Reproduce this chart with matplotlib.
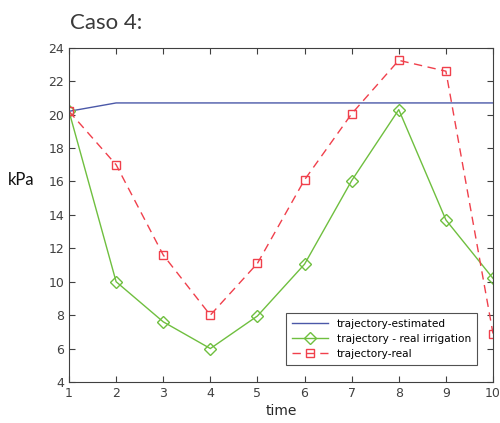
import matplotlib.pyplot as plt

# datos
t = [1, 2, 3, 4, 5, 6, 7, 8, 9, 10]
estimada = [20.2, 20.7, 20.7, 20.7, 20.7, 20.7, 20.7, 20.7, 20.7, 20.7]
riego_real = [20.2, 10.0, 7.6, 6.0, 7.95, 11.05, 16.05, 20.3, 13.7, 10.2]
real = [20.2, 17.0, 11.6, 8.0, 11.1, 16.1, 20.05, 23.25, 22.6, 6.9]

fig = plt.figure(figsize=(5.0, 4.23), dpi=100)
ax = fig.add_axes([0.138, 0.097, 0.848, 0.790])

ax.plot(t, estimada, color="#4b58a8", lw=1.0, label="trajectory-estimated")
ax.plot(t, riego_real, color="#6fbf3f", lw=1.0, marker="D", ms=6, mfc="none",
        mew=1.0, label="trajectory - real irrigation")
ax.plot(t, real, color="#f0404c", lw=1.0, ls=(0, (6, 4)), marker="s", ms=5.5, mfc="none",
        mew=1.0, label="trajectory-real")

ax.set_xlim(1, 10)
ax.set_ylim(4, 24)
ax.set_xticks(range(1, 11))
ax.set_yticks(range(4, 25, 2))
ax.tick_params(direction="in", top=True, right=True, labelsize=9, colors="#404040",
               length=4, width=0.8)
for s in ax.spines.values():
    s.set_color("#404040")
    s.set_linewidth(0.8)

ax.set_xlabel("time", fontsize=10, color="#262626", labelpad=3)
fig.text(0.016, 0.575, "kPa", fontsize=12, color="#111111", family="Lato", va="center")
fig.text(0.14, 0.945, "Caso 4:", fontsize=16, color="#3a3a3a", family="Lato",
         va="center")

leg = ax.legend(loc="lower right", bbox_to_anchor=(0.975, 0.035), fontsize=7.6,
                frameon=True, fancybox=False, edgecolor="#262626", borderpad=0.6,
                handlelength=3.4, labelspacing=0.45)
leg.get_frame().set_linewidth(0.8)

fig.savefig("out.png", dpi=100)
